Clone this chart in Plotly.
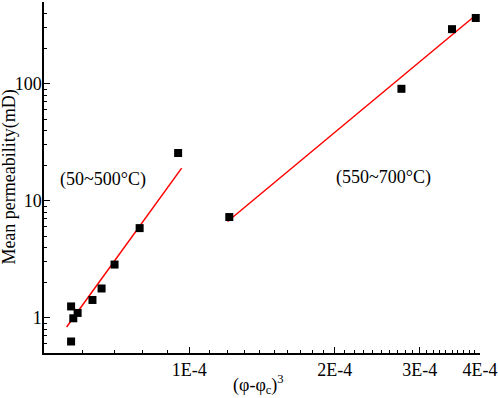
import plotly.graph_objects as go

# Data
low_x = [5.69e-5, 5.69e-5, 5.75e-5, 5.87e-5, 6.30e-5, 6.58e-5, 7.0e-5, 7.89e-5, 9.48e-5]
low_y = [1.25, 0.627, 0.99, 1.10, 1.42, 1.78, 2.85, 5.84, 25.6]
high_x = [1.21e-4, 2.75e-4, 3.50e-4, 3.92e-4]
high_y = [7.26, 90.6, 293, 365]

low_fit_x = [5.57e-5, 9.64e-5]
low_fit_y = [0.833, 19.0]
high_fit_x = [1.20e-4, 3.93e-4]
high_fit_y = [6.65, 389]

x_tickvals = [1e-4, 2e-4, 3e-4, 4e-4]
x_ticktext = ["1E-4", "2E-4", "3E-4", "4E-4"]
x_minor = [6e-5, 7e-5, 8e-5, 9e-5] + [k * 1e-5 for k in range(11, 20)] + \
          [k * 1e-5 for k in range(21, 30)] + [k * 1e-5 for k in range(31, 40)]
y_tickvals = [1, 10, 100]
y_ticktext = ["1", "10", "100"]
y_minor = [0.6, 0.7, 0.8, 0.9] + list(range(2, 10)) + list(range(20, 100, 10)) + [200, 300, 400]

FONT = "Liberation Serif"

fig = go.Figure()
fig.add_trace(go.Scatter(x=low_fit_x, y=low_fit_y, mode="lines",
                         line=dict(color="#FF0000", width=1.5), showlegend=False))
fig.add_trace(go.Scatter(x=high_fit_x, y=high_fit_y, mode="lines",
                         line=dict(color="#FF0000", width=1.5), showlegend=False))
fig.add_trace(go.Scatter(x=low_x, y=low_y, mode="markers",
                         marker=dict(symbol="square", size=8, color="black"), showlegend=False))
fig.add_trace(go.Scatter(x=high_x, y=high_y, mode="markers",
                         marker=dict(symbol="square", size=8, color="black"), showlegend=False))

axis_common = dict(showgrid=False, zeroline=False, showline=True, linecolor="black",
                   linewidth=1.5, ticks="inside", ticklen=6, tickwidth=1.2, tickcolor="black",
                   tickfont=dict(family=FONT, size=18, color="black"), mirror=False,
                   automargin=False)

fig.update_xaxes(type="log", range=[-4.30103, -3.39794],
                 tickmode="array", tickvals=x_tickvals, ticktext=x_ticktext,
                 minor=dict(tickmode="array", tickvals=x_minor, ticks="inside", ticklen=3,
                            tickwidth=1, tickcolor="black", showgrid=False),
                 **axis_common)
fig.update_yaxes(type="log", range=[-0.30103, 2.69897],
                 tickmode="array", tickvals=y_tickvals, ticktext=y_ticktext,
                 ticklabelstandoff=-3,
                 minor=dict(tickmode="array", tickvals=y_minor, ticks="inside", ticklen=3,
                            tickwidth=1, tickcolor="black", showgrid=False),
                 **axis_common)

ann_font = dict(family=FONT, size=18, color="black")
fig.add_annotation(text="(50~500°C)", xref="paper", yref="paper", x=0.135, y=0.493,
                   xanchor="center", yanchor="middle", showarrow=False, font=ann_font)
fig.add_annotation(text="(550~700°C)", xref="paper", yref="paper", x=0.778, y=0.499,
                   xanchor="center", yanchor="middle", showarrow=False, font=ann_font)
fig.add_annotation(text="(φ-φ<sub>c</sub>)<sup>3</sup>", xref="paper", yref="paper",
                   x=0.493, y=-0.090, xanchor="center", yanchor="middle",
                   showarrow=False, font=ann_font)
fig.add_annotation(text="Mean permeability(mD)", xref="paper", yref="paper",
                   x=-0.080, y=0.5, xanchor="center", yanchor="middle",
                   textangle=-90, showarrow=False, font=ann_font)

fig.update_layout(width=498, height=398, margin=dict(l=44, r=18, t=2, b=45, autoexpand=False),
                  plot_bgcolor="white", paper_bgcolor="white")

fig.write_html("out.html", config={"displayModeBar": False},
               post_script="document.body.style.margin='0px';")
